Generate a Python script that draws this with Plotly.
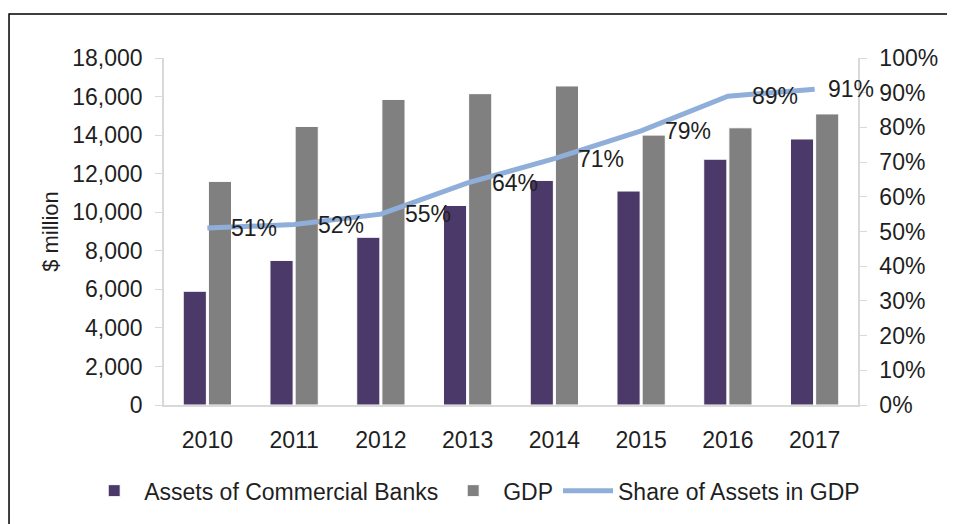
import plotly.graph_objects as go

years = ['2010', '2011', '2012', '2013', '2014', '2015', '2016', '2017']
bank_assets = [5900, 7500, 8700, 10350, 11650, 11100, 12750, 13800]
gdp = [11600, 14450, 15850, 16150, 16550, 14000, 14380, 15100]
share = [0.51, 0.52, 0.55, 0.64, 0.71, 0.79, 0.89, 0.91]
share_labels = ['51%', '52%', '55%', '64%', '71%', '79%', '89%', '91%']

font_family = 'Liberation Sans, Arial, sans-serif'
text_color = '#1f1f1f'

trace_assets = go.Bar(x=years, y=bank_assets, name='Assets of Commercial Banks',
                      marker=dict(color='#4B3A69', line=dict(color='white', width=1)))
trace_gdp = go.Bar(x=years, y=gdp, name='GDP',
                   marker=dict(color='#808080', line=dict(color='white', width=1)))
trace_share = go.Scatter(x=years, y=share, name='Share of Assets in GDP', yaxis='y2',
                         mode='lines', line=dict(color='#8FAFDA', width=5))

# data labels for the share line, placed right of each point
# (the last one sits a bit closer so it stays inside the plot)
annotations = []
for i, (val, lab) in enumerate(zip(share, share_labels)):
    shift = 22 if i < len(share) - 1 else 11
    annotations.append(dict(x=i, y=val, xref='x', yref='y2', text=lab, showarrow=False,
                            xanchor='left', yanchor='middle', xshift=shift,
                            font=dict(size=23, color=text_color, family=font_family)))

layout = go.Layout(
    width=947,
    height=516,
    margin=dict(l=156, r=97, t=50, b=119),
    paper_bgcolor='white',
    plot_bgcolor='white',
    font=dict(family=font_family, size=23, color=text_color),
    barmode='group',
    bargap=0.42,
    bargroupgap=0.08,
    showlegend=True,
    legend=dict(orientation='h', x=-0.115, xanchor='left', y=-0.185, yanchor='top',
                font=dict(size=23), itemwidth=50, tracegroupgap=0),
    xaxis=dict(type='category', range=[-0.5, 7.5], showline=True, linecolor='#D9D9D9',
               linewidth=1.5, showgrid=False, ticks='', ticklabelstandoff=14),
    yaxis=dict(title=dict(text='$ million', standoff=8, font=dict(size=22)),
               range=[0, 18000], dtick=2000, tickformat=',', showgrid=False,
               showline=True, linecolor='#D9D9D9', linewidth=1.5,
               ticks='outside', ticklen=7, tickcolor='#D9D9D9', ticklabelstandoff=8,
               zeroline=False),
    yaxis2=dict(overlaying='y', side='right', range=[0, 1], dtick=0.1,
                tickformat='.0%', showgrid=False,
                showline=True, linecolor='#D9D9D9', linewidth=1.5,
                ticks='outside', ticklen=7, tickcolor='#D9D9D9', ticklabelstandoff=8,
                zeroline=False),
    annotations=annotations,
    shapes=[dict(type='rect', xref='paper', yref='paper',
                 x0=-0.2233, y0=-0.6, x1=1.3, y1=1.1268,
                 line=dict(color='black', width=1.5), fillcolor='rgba(0,0,0,0)',
                 layer='below')],
)

fig = go.Figure(data=[trace_assets, trace_gdp, trace_share], layout=layout)
fig.write_html("out.html")
